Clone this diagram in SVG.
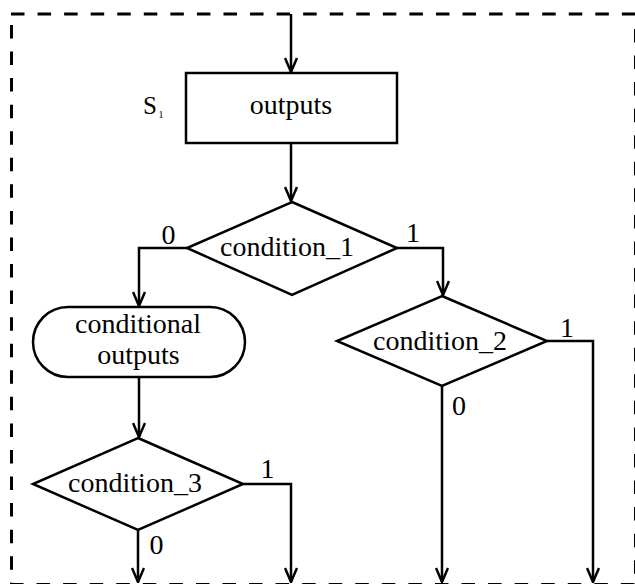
<svg xmlns="http://www.w3.org/2000/svg" width="635" height="584" viewBox="0 0 635 584">
  <defs>
    <marker id="arrow" viewBox="0 0 16 14" refX="15" refY="7" markerWidth="16" markerHeight="14" markerUnits="userSpaceOnUse" orient="auto">
      <path d="M1,1 L15,7 L1,13" fill="none" stroke="#000" stroke-width="2.5"/>
    </marker>
    <style>
      .shape { fill: #fff; stroke: #000; stroke-width: 2.5; }
      .wire { fill: none; stroke: #000; stroke-width: 2.5; }
      .border { stroke: #000; stroke-width: 3; stroke-dasharray: 13.5 13.06; fill: none; }
      text { font-family: "Liberation Serif", "Times New Roman", serif; font-size: 28px; fill: #000; }
      .mid { text-anchor: middle; }
    </style>
  </defs>
  <rect width="635" height="584" fill="#fff"/>

  <!-- dashed state boundary -->
  <g id="boundary">
    <line class="border" x1="11" y1="14" x2="640" y2="14"/>
    <line class="border" x1="11.5" y1="25" x2="11.5" y2="584"/>
    <line class="border" x1="635.5" y1="29" x2="635.5" y2="584"/>
    <line class="border" x1="10" y1="584.5" x2="640" y2="584.5"/>
  </g>

  <!-- connectors -->
  <g id="connectors">
    <path class="wire" d="M291,14 V72" marker-end="url(#arrow)"/>
    <path class="wire" d="M291,143 V201" marker-end="url(#arrow)"/>
    <path class="wire" d="M187,248 H139 V306" marker-end="url(#arrow)"/>
    <path class="wire" d="M397,248 H443 V295" marker-end="url(#arrow)"/>
    <path class="wire" d="M139,377 V437" marker-end="url(#arrow)"/>
    <path class="wire" d="M547,341 H593 V582" marker-end="url(#arrow)"/>
    <path class="wire" d="M442,386 V582" marker-end="url(#arrow)"/>
    <path class="wire" d="M243,484 H291 V582" marker-end="url(#arrow)"/>
    <path class="wire" d="M138,530 V582" marker-end="url(#arrow)"/>
    <text class="mid" x="168.5" y="244">0</text>
    <text class="mid" x="413" y="242">1</text>
    <text class="mid" x="567" y="337">1</text>
    <text class="mid" x="459" y="415">0</text>
    <text class="mid" x="267.5" y="478">1</text>
    <text class="mid" x="156.5" y="554">0</text>
  </g>

  <!-- state label -->
  <g id="state-name">
    <text x="143" y="114" style="font-size:25px">S</text>
    <text x="158.5" y="118" style="font-size:10px">1</text>
  </g>

  <g id="outputs">
    <rect class="shape" x="186" y="73" width="211" height="70"/>
    <text class="mid" x="291" y="114">outputs</text>
  </g>

  <g id="condition_1">
    <polygon class="shape" points="292,202 397,248 292,295 187,248"/>
    <text class="mid" x="287" y="256">condition_1</text>
  </g>

  <g id="conditional_outputs">
    <rect class="shape" x="33" y="307" width="212" height="70" rx="35" ry="35"/>
    <text class="mid" x="138" y="333">conditional</text>
    <text class="mid" x="138.5" y="364">outputs</text>
  </g>

  <g id="condition_2">
    <polygon class="shape" points="442,296 547,341 442,386 337,341"/>
    <text class="mid" x="440" y="350">condition_2</text>
  </g>

  <g id="condition_3">
    <polygon class="shape" points="138,438 243,484 138,530 33,484"/>
    <text class="mid" x="135" y="492">condition_3</text>
  </g>
</svg>
